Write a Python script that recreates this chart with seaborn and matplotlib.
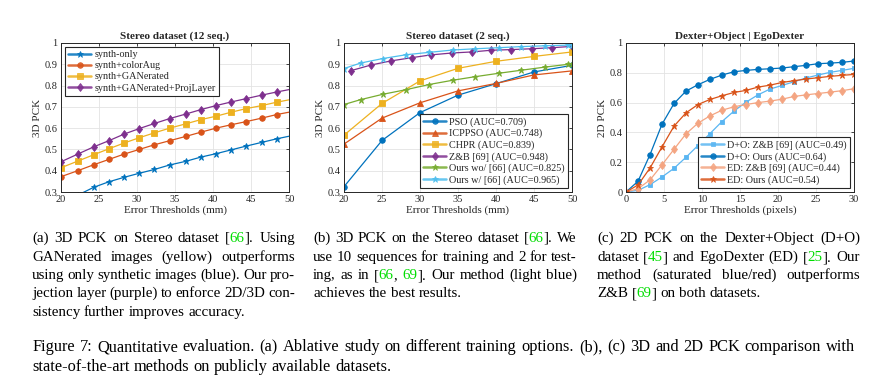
import matplotlib
matplotlib.use('Agg')
import matplotlib.pyplot as plt
import seaborn as sns

# (a) Stereo dataset, 12 sequences
a_x = [20, 22.2, 24.3, 26.3, 28.3, 30.3, 32.3, 34.3, 36.4, 38.4, 40.4, 42.4, 44.4, 46.4, 48.4, 50]
a_synth = [0.26, 0.285, 0.322, 0.348, 0.369, 0.388, 0.406, 0.427, 0.444, 0.464, 0.480, 0.498, 0.516, 0.533, 0.550, 0.562]
a_color = [0.372, 0.400, 0.428, 0.453, 0.478, 0.500, 0.522, 0.541, 0.561, 0.581, 0.600, 0.616, 0.631, 0.647, 0.664, 0.675]
a_gan = [0.414, 0.445, 0.475, 0.503, 0.530, 0.555, 0.578, 0.600, 0.620, 0.640, 0.656, 0.675, 0.692, 0.706, 0.722, 0.733]
a_proj = [0.442, 0.478, 0.512, 0.541, 0.572, 0.598, 0.622, 0.645, 0.666, 0.687, 0.706, 0.723, 0.739, 0.755, 0.770, 0.781]
a_labels = ['synth-only', 'synth+colorAug', 'synth+GANerated', 'synth+GANerated+ProjLayer']

# (b) Stereo dataset, 2 sequences
b_x5 = [20, 25, 30, 35, 40, 45, 50]
b_pso = [0.325, 0.542, 0.673, 0.755, 0.809, 0.864, 0.895]
b_icppso = [0.525, 0.647, 0.719, 0.775, 0.810, 0.850, 0.869]
b_chpr = [0.567, 0.716, 0.822, 0.881, 0.914, 0.937, 0.958]
b_zb_x = [20.9, 23.6, 26.2, 28.9, 31.4, 34.2, 36.8, 39.4, 42.0, 44.7, 47.4, 50]
b_zb = [0.870, 0.897, 0.916, 0.931, 0.944, 0.953, 0.958, 0.966, 0.969, 0.973, 0.978, 0.984]
b_ours_x = [20, 22.2, 25.1, 28.2, 31.2, 34.3, 37.3, 40.4, 43.3, 46.5, 49.5, 50]
b_ours_wo = [0.711, 0.734, 0.759, 0.781, 0.805, 0.825, 0.842, 0.858, 0.872, 0.887, 0.900, 0.903]
b_ours_w = [0.880, 0.906, 0.927, 0.945, 0.956, 0.967, 0.973, 0.978, 0.983, 0.987, 0.990, 0.990]
b_labels = ['PSO (AUC=0.709)', 'ICPPSO (AUC=0.748)', 'CHPR (AUC=0.839)', 'Z&B [69] (AUC=0.948)',
            'Ours wo/ [66] (AUC=0.825)', 'Ours w/ [66] (AUC=0.965)']

# (c) Dexter+Object | EgoDexter
c_x = [0, 1.58, 3.16, 4.74, 6.32, 7.89, 9.47, 11.05, 12.63, 14.21,
       15.79, 17.37, 18.95, 20.53, 22.11, 23.68, 25.26, 26.84, 28.42, 30]
c_do_zb = [0, 0.011, 0.049, 0.101, 0.159, 0.233, 0.312, 0.392, 0.473, 0.543,
           0.603, 0.652, 0.691, 0.715, 0.740, 0.765, 0.785, 0.803, 0.816, 0.830]
c_do_ours = [0, 0.072, 0.251, 0.455, 0.594, 0.677, 0.720, 0.756, 0.785, 0.807,
             0.816, 0.823, 0.827, 0.832, 0.841, 0.850, 0.861, 0.865, 0.870, 0.879]
c_ed_zb = [0, 0.022, 0.081, 0.182, 0.287, 0.390, 0.462, 0.511, 0.549, 0.572,
           0.587, 0.600, 0.610, 0.623, 0.641, 0.652, 0.661, 0.670, 0.680, 0.693]
c_ed_ours = [0, 0.047, 0.161, 0.303, 0.442, 0.531, 0.587, 0.621, 0.646, 0.668,
             0.682, 0.704, 0.717, 0.735, 0.747, 0.758, 0.767, 0.776, 0.783, 0.789]
c_labels = ['D+O: Z&B [69] (AUC=0.49)', 'D+O: Ours (AUC=0.64)',
            'ED: Z&B [69] (AUC=0.44)', 'ED: Ours (AUC=0.54)']

BLUE, ORANGE, YELLOW, PURPLE = '#0072BD', '#D95319', '#EDB120', '#7E2F8E'
GREEN, LBLUE, SALMON = '#77AC30', '#4DBEEE', '#F4A582'
CITE = '#00dd00'
INK = '#262626'
SERIF = 'Liberation Serif'

sns.set_theme(style='whitegrid', rc={
    'axes.edgecolor': INK, 'axes.linewidth': 0.7, 'grid.color': '#e3e3e3', 'grid.linewidth': 0.6,
    'xtick.direction': 'in', 'ytick.direction': 'in', 'xtick.top': True, 'ytick.right': True,
    'xtick.major.size': 2.5, 'ytick.major.size': 2.5, 'xtick.major.width': 0.6, 'ytick.major.width': 0.6,
    'xtick.color': INK, 'ytick.color': INK, 'xtick.labelsize': 7.5, 'ytick.labelsize': 7.5,
    'xtick.major.pad': 2.5, 'ytick.major.pad': 2.5,
})
plt.rcParams['font.family'] = [SERIF, 'DejaVu Serif']

fig = plt.figure(figsize=(8.88, 3.86), dpi=100)
W, H = 888, 386


def add_axes(left_px):
    return fig.add_axes([left_px / W, 1 - 192 / H, 228 / W, 149 / H])


def series(ax, x, y, color, marker, label, ms=4, **kw):
    sns.lineplot(x=x, y=y, ax=ax, color=color, marker=marker, markersize=ms, linewidth=0.9,
                 markeredgecolor=color, markeredgewidth=0.6, label=label, **kw)


def style(ax, title, xlabel, ylabel):
    ax.set_title(title, fontsize=8, fontweight='bold', pad=3)
    ax.set_xlabel(xlabel, fontsize=8, labelpad=1)
    ax.set_ylabel(ylabel, fontsize=8, labelpad=2)
    ax.yaxis.set_major_formatter(matplotlib.ticker.FormatStrFormatter('%g'))
    for s in ax.spines.values():
        s.set_color(INK)


def legend(ax, **kw):
    leg = ax.legend(fontsize=7.3, fancybox=False, edgecolor=INK, framealpha=1, handlelength=2.3,
                    labelspacing=0.2, borderpad=0.3, handletextpad=0.3, borderaxespad=0.4, **kw)
    leg.get_frame().set_linewidth(0.8)
    for ln in leg.get_lines():
        ln.set_linewidth(1.8)
        ln.set_alpha(0.85)


# panel (a)
ax = add_axes(61)
mk = list(range(len(a_x) - 1))
series(ax, a_x, a_synth, BLUE, '*', a_labels[0], ms=5, markevery=mk)
series(ax, a_x, a_color, ORANGE, 'o', a_labels[1], markevery=mk)
series(ax, a_x, a_gan, YELLOW, 's', a_labels[2], markevery=mk)
series(ax, a_x, a_proj, PURPLE, 'd', a_labels[3], ms=4.5, markevery=mk)
ax.set_xlim(20, 50)
ax.set_ylim(0.3, 1)
ax.set_xticks(range(20, 51, 5))
ax.set_yticks([0.3, 0.4, 0.5, 0.6, 0.7, 0.8, 0.9, 1])
style(ax, 'Stereo dataset (12 seq.)', 'Error Thresholds (mm)', '3D PCK')
legend(ax, loc='upper left')

# panel (b)
ax = add_axes(344)
series(ax, b_x5, b_pso, BLUE, 'o', b_labels[0])
series(ax, b_x5, b_icppso, ORANGE, '^', b_labels[1])
series(ax, b_x5, b_chpr, YELLOW, 's', b_labels[2])
series(ax, b_zb_x, b_zb, PURPLE, 'd', b_labels[3], ms=4.5)
series(ax, b_ours_x, b_ours_wo, GREEN, '*', b_labels[4], ms=5)
series(ax, b_ours_x, b_ours_w, LBLUE, '*', b_labels[5], ms=5)
ax.set_xlim(20, 50)
ax.set_ylim(0.3, 1)
ax.set_xticks(range(20, 51, 5))
ax.set_yticks([0.3, 0.4, 0.5, 0.6, 0.7, 0.8, 0.9, 1])
style(ax, 'Stereo dataset (2 seq.)', 'Error Thresholds (mm)', '3D PCK')
legend(ax, loc='lower right')

# panel (c)
ax = add_axes(626)
series(ax, c_x, c_do_zb, '#5AB6F2', 's', c_labels[0], ms=3.5)
series(ax, c_x, c_do_ours, BLUE, 'o', c_labels[1])
series(ax, c_x, c_ed_zb, SALMON, 'd', c_labels[2], ms=4.5)
series(ax, c_x, c_ed_ours, ORANGE, '*', c_labels[3], ms=5)
ax.set_xlim(0, 30)
ax.set_ylim(0, 1)
ax.set_xticks(range(0, 31, 5))
ax.set_yticks([0, 0.2, 0.4, 0.6, 0.8, 1])
style(ax, 'Dexter+Object | EgoDexter', 'Error Thresholds (pixels)', '2D PCK')
legend(ax, loc='lower right')

# captions, justified word by word
renderer = fig.canvas.get_renderer()


def text_width(s, size):
    t = fig.text(0, 0, s, fontsize=size, family=SERIF)
    w = t.get_window_extent(renderer).width
    t.remove()
    return w


def parse(word):
    segs, green, buf = [], False, ''
    for ch in word:
        if ch in '{}':
            if buf:
                segs.append((buf, CITE if green else 'black'))
            buf, green = '', ch == '{'
        else:
            buf += ch
    if buf:
        segs.append((buf, CITE if green else 'black'))
    return segs


def paragraph(lines, x0, x1, y_base, size):
    sw = text_width('n n', size) - text_width('nn', size)
    for i, line in enumerate(lines):
        y = 1 - y_base[i] / H
        words = [parse(w) for w in line.split(' ')]
        plain = [''.join(s for s, _ in ws) for ws in words]
        widths = [text_width(p, size) for p in plain]
        if i < len(lines) - 1 and len(words) > 1:
            gap = (x1 - x0 - sum(widths)) / (len(words) - 1)
        else:
            gap = sw
        x = x0
        for ws, p, wd in zip(words, plain, widths):
            done = 0
            for s, c in ws:
                off = wd - text_width(p[done:], size) - 0.5 if done else 0
                fig.text((x + off) / W, y, s, fontsize=size, color=c, family=SERIF, va='baseline')
                done += len(s)
            x += wd + gap


paragraph(['(a) 3D PCK on Stereo dataset [{66}]. Using',
           'GANerated images (yellow) outperforms',
           'using only synthetic images (blue). Our pro-',
           'jection layer (purple) to enforce 2D/3D con-',
           'sistency further improves accuracy.'],
          32, 295, [242, 261, 279, 297, 316], 10.8)
paragraph(['(b) 3D PCK on the Stereo dataset [{66}]. We',
           'use 10 sequences for training and 2 for test-',
           'ing, as in [{66}, {69}]. Our method (light blue)',
           'achieves the best results.'],
          313, 577, [242, 261, 279, 297], 10.8)
paragraph(['(c) 2D PCK on the Dexter+Object (D+O)',
           'dataset [{45}] and EgoDexter (ED) [{25}]. Our',
           'method (saturated blue/red) outperforms',
           'Z&B [{69}] on both datasets.'],
          597, 860, [242, 261, 279, 297], 10.8)
paragraph(['Figure 7: Quantitative evaluation. (a) Ablative study on different training options. '
           '(b), (c) 3D and 2D PCK comparison with',
           'state-of-the-art methods on publicly available datasets.'],
          32, 855, [351, 371], 11.8)

fig.savefig('out.png', dpi=100)
